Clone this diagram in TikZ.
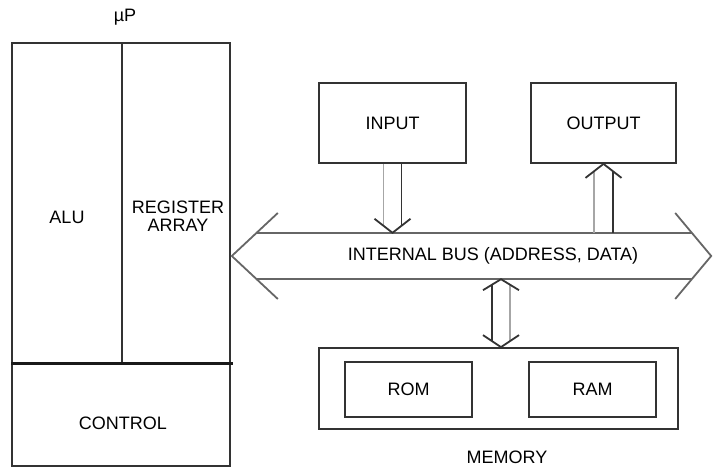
\documentclass[tikz,border=0pt]{standalone}
\usepackage{fontspec}
\setmainfont{Liberation Sans}
\usetikzlibrary{calc}
\begin{document}
\begin{tikzpicture}[x=1pt,y=1pt,
    font=\fontsize{18}{18}\selectfont,
    caja/.style={draw=black!80, line width=1.8pt, inner sep=0pt},
    linea/.style={draw=black!80, line width=1.8pt},
    gruesa/.style={draw=black!90, line width=3pt},
    bus/.style={draw=black!60, line width=1.8pt},
    claro/.style={draw=black!35, line width=1.8pt}]
    \useasboundingbox (0,0) rectangle (713,468);

    % Microprocesador
    \node[caja, minimum width=218pt, minimum height=423pt] (up) at (121,213.5) {};
    \node (uplbl) at (125,451) {µP};
    \coordinate (split) at (122,104);
    \draw[linea] (up.north -| split) -- (split);
    \draw[gruesa] (up.west |- split) -- ($(up.east |- split)+(2,0)$);
    \node (alu) at (67,251) {ALU};
    \node[align=center] (reg) at (178,252) {REGISTER\\ARRAY};
    \node (ctrl) at (123,45) {CONTROL};

    % Bus interno
    \node[minimum width=435pt, minimum height=46pt, inner sep=0pt] (bus) at (474.5,212) {};
    \node (buslbl) at (493,212) {INTERNAL BUS (ADDRESS, DATA)};
    \draw[bus] (bus.north west) -- (bus.north east) (bus.south west) -- (bus.south east);
    \draw[bus] ($(bus.west)+(21,43)$) -- ($(bus.west)+(-25,0)$) -- ($(bus.west)+(21,-43)$);
    \draw[bus] ($(bus.east)+(-17,43)$) -- ($(bus.east)+(19,0)$) -- ($(bus.east)+(-17,-43)$);

    % Entrada y salida
    \node[caja, minimum width=147pt, minimum height=80pt] (in) at (392.5,345) {INPUT};
    \node[caja, minimum width=145pt, minimum height=80pt] (out) at (603.5,345) {OUTPUT};

    % Memoria
    \node[caja, minimum width=359pt, minimum height=81pt] (mem) at (498.5,79.5) {};
    \node[caja, minimum width=127pt, minimum height=55pt] (rom) at (408.5,78.5) {ROM};
    \node[caja, minimum width=127pt, minimum height=55pt] (ram) at (592.5,78.5) {RAM};
    \node[inner sep=1pt] (memlbl) at (507,10.5) {MEMORY};

    % INPUT -> bus
    \coordinate (t1) at (in.south |- bus.north);
    \draw[claro] ($(in.south)+(-9,0)$) -- ($(t1)+(-9,7)$);
    \draw[linea] ($(in.south)+(9,0)$) -- ($(t1)+(9,7)$);
    \draw[linea] ($(t1)+(-18,14)$) -- (t1) -- ($(t1)+(18,14)$);

    % bus -> OUTPUT
    \coordinate (t2) at (out.south);
    \draw[claro] ($(out.south |- bus.north)+(-9.5,0)$) -- ($(t2)+(-9.5,-7)$);
    \draw[linea] ($(out.south |- bus.north)+(9.5,0)$) -- ($(t2)+(9.5,-7)$);
    \draw[linea] ($(t2)+(-18,-14)$) -- (t2) -- ($(t2)+(18,-14)$);

    % bus <-> MEMORY
    \coordinate (t3) at ($(mem.north |- bus.south)+(2.5,0)$);
    \coordinate (t4) at ($(mem.north)+(2.5,0)$);
    \draw[linea] ($(t3)+(-9,-6)$) -- ($(t4)+(-9,6)$);
    \draw[claro] ($(t3)+(9,-6)$) -- ($(t4)+(9,6)$);
    \draw[linea] ($(t3)+(-18,-11)$) -- (t3) -- ($(t3)+(18,-11)$);
    \draw[linea] ($(t4)+(-18,12)$) -- (t4) -- ($(t4)+(18,12)$);
\end{tikzpicture}
\end{document}
